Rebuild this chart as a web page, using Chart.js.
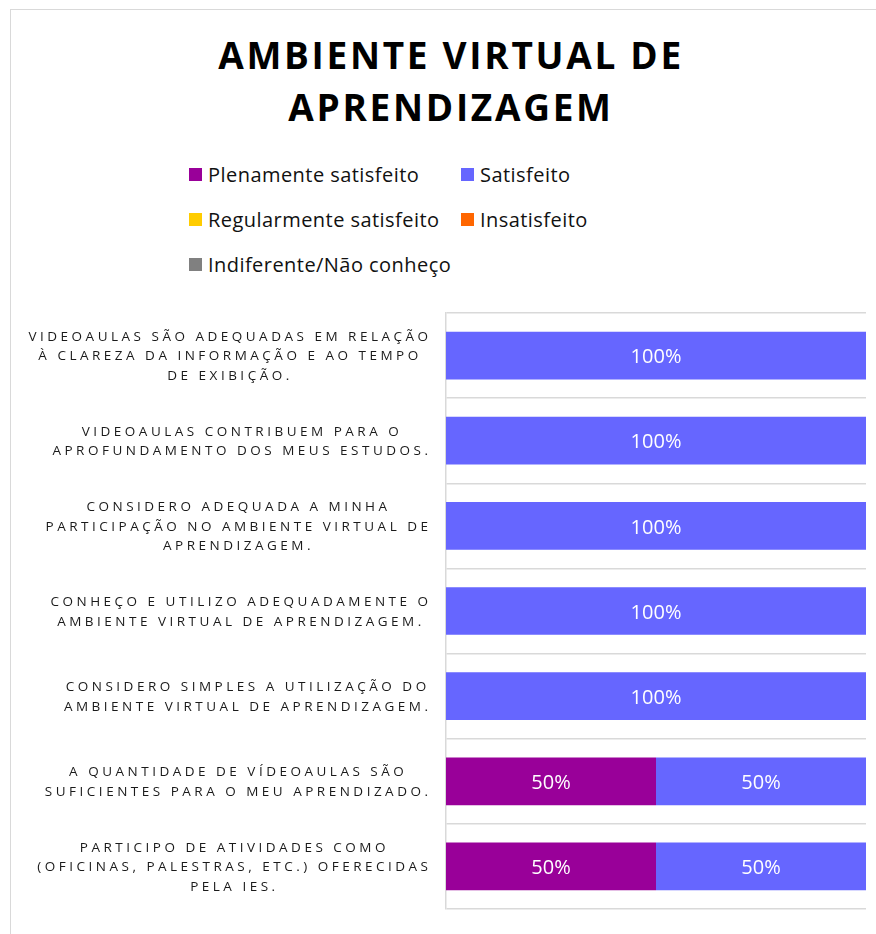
<!DOCTYPE html>
<html lang="pt-BR">
<head>
  <meta charset="UTF-8">
  <title>Ambiente Virtual de Aprendizagem</title>
  <script src="https://cdn.jsdelivr.net/npm/chart.js"></script>
  <style>
    html, body { margin: 0; padding: 0; background: #fff; overflow: hidden; }
    body { width: 876px; height: 934px; position: relative; font-family: 'Open Sans', sans-serif; }

    /* chart frame, runs off the right and bottom edge */
    .frame { position: absolute; left: 10px; top: 9px; width: 900px; height: 960px; border: 1.5px solid #d9d9d9; }

    h1 { position: absolute; left: 10px; width: 882px; top: 29px; margin: 0; text-align: center;
         font: 700 37px/52px 'Open Sans', sans-serif; letter-spacing: 2.7px; color: #000; }

    /* legend: two columns, built from the datasets */
    #legend { position: absolute; left: 189px; top: 152px; display: grid;
              grid-template-columns: 272px auto; grid-auto-rows: 45px; font-size: 20px;
              letter-spacing: 0.45px; color: #111; }
    .item { display: flex; align-items: center; white-space: nowrap; }
    .swatch { width: 13px; height: 13px; margin-right: 6px; flex: none; }

    .chart-box { position: absolute; left: 0; top: 295px; width: 876px; height: 639px; }
  </style>
</head>
<body>
  <div class="frame"></div>
  <h1>AMBIENTE VIRTUAL DE<br>APRENDIZAGEM</h1>
  <div id="legend"></div>
  <div class="chart-box"><canvas id="chart"></canvas></div>

  <script>
    // one entry per question, already split into the printed lines
    const categories = [
      ['VIDEOAULAS SÃO ADEQUADAS EM RELAÇÃO', 'À CLAREZA DA INFORMAÇÃO E AO TEMPO', 'DE EXIBIÇÃO.'],
      ['VIDEOAULAS CONTRIBUEM PARA O', 'APROFUNDAMENTO DOS MEUS ESTUDOS.'],
      ['CONSIDERO ADEQUADA A MINHA', 'PARTICIPAÇÃO NO AMBIENTE VIRTUAL DE', 'APRENDIZAGEM.'],
      ['CONHEÇO E UTILIZO ADEQUADAMENTE O', 'AMBIENTE VIRTUAL DE APRENDIZAGEM.'],
      ['CONSIDERO SIMPLES A UTILIZAÇÃO DO', 'AMBIENTE VIRTUAL DE APRENDIZAGEM.'],
      ['A QUANTIDADE DE VÍDEOAULAS SÃO', 'SUFICIENTES PARA O MEU APRENDIZADO.'],
      ['PARTICIPO DE ATIVIDADES COMO', '(OFICINAS, PALESTRAS, ETC.) OFERECIDAS', 'PELA IES.']
    ];

    // percentages per answer
    const plenamente   = [0, 0, 0, 0, 0, 50, 50];
    const satisfeito   = [100, 100, 100, 100, 100, 50, 50];
    const regular      = [0, 0, 0, 0, 0, 0, 0];
    const insatisfeito = [0, 0, 0, 0, 0, 0, 0];
    const indiferente  = [0, 0, 0, 0, 0, 0, 0];

    const seriesNames  = ['Plenamente satisfeito', 'Satisfeito', 'Regularmente satisfeito', 'Insatisfeito', 'Indiferente/Não conheço'];
    const seriesColors = ['#990099', '#6666ff', '#ffcc00', '#ff6600', '#808080'];
    const seriesData   = [plenamente, satisfeito, regular, insatisfeito, indiferente];

    const PLOT_LEFT = 446;
    const LABEL_RIGHT = 428;

    // white "NN%" inside each non-empty segment
    const segmentLabels = {
      id: 'segmentLabels',
      afterDatasetsDraw(chart) {
        const ctx = chart.ctx;
        ctx.save();
        ctx.font = '20px "Open Sans", sans-serif';
        ctx.fillStyle = '#fff';
        ctx.textAlign = 'center';
        ctx.textBaseline = 'middle';
        chart.data.datasets.forEach((ds, i) => {
          chart.getDatasetMeta(i).data.forEach((bar, j) => {
            const v = ds.data[j];
            if (!v) return;
            const p = bar.getCenterPoint();
            ctx.fillText(v + '%', p.x, p.y + 2);
          });
        });
        ctx.restore();
      }
    };

    // spaced capitals, each block right aligned, lines centred inside the block
    const categoryLabels = {
      id: 'categoryLabels',
      afterDraw(chart) {
        const ctx = chart.ctx;
        const y = chart.scales.y;
        const spacing = 3.5;
        const lineH = 19.5;
        ctx.save();
        ctx.font = '13.5px "Open Sans", sans-serif';
        ctx.letterSpacing = spacing + 'px';
        ctx.fillStyle = '#1a1a1a';
        ctx.textAlign = 'center';
        ctx.textBaseline = 'middle';
        chart.data.labels.forEach((lines, i) => {
          const yc = y.getPixelForTick(i);
          const block = Math.max(...lines.map(l => ctx.measureText(l).width));
          const xc = LABEL_RIGHT + spacing - block / 2;
          lines.forEach((line, k) => {
            ctx.fillText(line, xc, yc + (k - (lines.length - 1) / 2) * lineH + 1);
          });
        });
        ctx.restore();
      }
    };

    const chart = new Chart(document.getElementById('chart'), {
      type: 'bar',
      data: {
        labels: categories,
        datasets: seriesNames.map((name, i) => ({
          label: name,
          data: seriesData[i],
          backgroundColor: seriesColors[i],
          categoryPercentage: 1,
          barPercentage: 0.56
        }))
      },
      options: {
        indexAxis: 'y',
        responsive: true,
        maintainAspectRatio: false,
        animation: false,
        layout: { padding: { top: 18, right: 10, bottom: 25, left: 0 } },
        scales: {
          x: { stacked: true, min: 0, max: 100, display: false },
          y: {
            stacked: true,
            grid: { color: '#d9d9d9', lineWidth: 1.5, drawTicks: false },
            border: { color: '#d9d9d9', width: 1.5 },
            ticks: { display: false },
            afterFit(scale) { scale.width = PLOT_LEFT; }
          }
        },
        plugins: {
          legend: { display: false },
          tooltip: { enabled: false }
        }
      },
      plugins: [segmentLabels, categoryLabels]
    });

    // HTML legend from the datasets
    const legend = document.getElementById('legend');
    chart.data.datasets.forEach(ds => {
      const item = document.createElement('div');
      item.className = 'item';
      item.innerHTML = `<span class="swatch" style="background:${ds.backgroundColor}"></span>${ds.label}`;
      legend.appendChild(item);
    });
  </script>
</body>
</html>
